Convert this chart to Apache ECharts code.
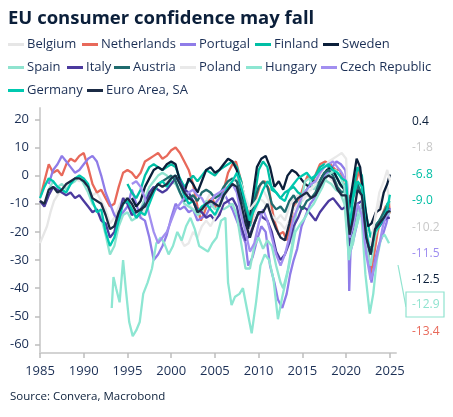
<!DOCTYPE html>
<html><head><meta charset="utf-8">
<script src="https://cdn.jsdelivr.net/npm/echarts@6/dist/echarts.min.js"></script>
<style>html,body{margin:0;padding:0;background:#fff}#c{width:453px;height:417px}</style>
</head><body><div id="c"></div>
<script>
// ---- data (year, value) ----
const belgium = [[1985.0,-24],[1985.4,-21],[1985.8,-18],[1986.2,-13],[1986.6,-9],[1987.0,-7],[1987.5,-5],[1988.0,-4],[1988.5,-3],[1989.0,-1],[1989.5,-2],[1990.0,-1],[1990.5,-4],[1991.0,-7],[1991.5,-6],[1992.0,-9],[1992.5,-12],[1993.0,-17],[1993.5,-15],[1994.0,-11],[1994.5,-8],[1995.0,-8],[1995.5,-11],[1996.0,-14],[1996.5,-15],[1997.0,-12],[1997.5,-8],[1998.0,-5],[1998.5,-3],[1999.0,-4],[1999.5,-2],[2000.0,-1],[2000.5,0],[2001.0,-3],[2001.5,-8],[2002.0,-10],[2002.5,-12],[2003.0,-15],[2003.5,-13],[2004.0,-9],[2004.5,-6],[2005.0,-8],[2005.5,-10],[2006.0,-6],[2006.5,-3],[2007.0,-2],[2007.5,-1],[2008.0,-8],[2008.5,-14],[2009.0,-20],[2009.5,-14],[2010.0,-9],[2010.5,-5],[2011.0,-8],[2011.5,-12],[2012.0,-16],[2012.5,-14],[2013.0,-16],[2013.5,-11],[2014.0,-8],[2014.5,-7],[2015.0,-9],[2015.5,-7],[2016.0,-8],[2016.5,-6],[2017.0,-2],[2017.5,0],[2018.0,0],[2018.5,-2],[2019.0,-3],[2019.5,-4],[2020.0,-5],[2020.4,-18],[2020.8,-12],[2021.3,-3],[2021.8,-6],[2022.3,-20],[2022.8,-26],[2023.3,-15],[2023.8,-10],[2024.3,-6],[2024.7,-4],[2025.0,-10.2]];
const netherlands = [[1985.1,-7],[1985.5,-2],[1986.0,4],[1986.5,1],[1987.0,2],[1987.5,0],[1988.0,4],[1988.5,6],[1989.0,5],[1989.5,7],[1990.0,8],[1990.5,3],[1991.0,-3],[1991.5,-6],[1992.0,-5],[1992.5,-8],[1993.0,-11],[1993.5,-10],[1994.0,-4],[1994.5,1],[1995.0,2],[1995.5,1],[1996.0,-1],[1996.5,1],[1997.0,5],[1997.5,6],[1998.0,7],[1998.5,8],[1999.0,6],[1999.5,7],[2000.0,9],[2000.5,10],[2001.0,8],[2001.5,5],[2002.0,2],[2002.5,-3],[2003.0,-11],[2003.4,-16],[2003.8,-13],[2004.3,-9],[2004.7,-8],[2005.2,-12],[2005.5,-14],[2006.0,-5],[2006.5,1],[2007.0,4],[2007.4,5],[2008.0,-2],[2008.5,-10],[2009.1,-17],[2009.6,-9],[2010.2,-3],[2010.7,-2],[2011.2,-5],[2011.7,-15],[2012.3,-21],[2012.8,-20],[2013.2,-23],[2013.6,-18],[2014.0,-11],[2014.6,-9],[2015.2,-3],[2015.6,0],[2016.2,-2],[2016.6,1],[2017.0,4],[2017.6,5],[2018.2,4],[2018.8,2],[2019.3,2],[2019.8,-4],[2020.4,-8],[2020.9,-5],[2021.5,2],[2021.9,-5],[2022.3,-20],[2022.8,-35],[2023.2,-28],[2023.6,-20],[2024.0,-15],[2024.5,-11],[2024.9,-10],[2025.0,-13.4]];
const portugal = [[1986.0,-3],[1986.5,2],[1987.0,4],[1987.5,7],[1988.0,5],[1988.5,3],[1989.0,1],[1989.5,2],[1990.0,4],[1990.5,6],[1991.0,7],[1991.5,5],[1992.0,0],[1992.5,-6],[1993.0,-10],[1993.5,-14],[1994.0,-16],[1994.5,-13],[1995.0,-11],[1995.5,-5],[1996.0,-10],[1996.5,-15],[1997.0,-16],[1997.5,-22],[1998.0,-30],[1998.5,-28],[1999.0,-25],[1999.5,-21],[2000.0,-15],[2000.5,-10],[2001.0,-12],[2001.5,-11],[2002.0,-13],[2002.5,-12],[2003.0,-16],[2003.5,-15],[2004.0,-14],[2004.5,-11],[2005.0,-10],[2005.5,-8],[2006.0,-6],[2006.5,-9],[2007.0,-12],[2007.5,-16],[2008.0,-20],[2008.5,-24],[2008.8,-32],[2009.3,-29],[2009.8,-23],[2010.3,-18],[2010.8,-20],[2011.3,-32],[2011.8,-38],[2012.2,-44],[2012.7,-47],[2013.2,-42],[2013.6,-35],[2014.0,-30],[2014.4,-26],[2014.9,-18],[2015.4,-14],[2015.9,-10],[2016.4,-8],[2016.9,-4],[2017.4,-1],[2017.9,1],[2018.4,3],[2018.9,5],[2019.4,4],[2019.9,2],[2020.2,-5],[2020.35,-41],[2020.5,-27],[2020.9,-22],[2021.4,-15],[2021.9,-10],[2022.3,-24],[2022.7,-33],[2022.9,-38],[2023.3,-30],[2023.7,-25],[2024.2,-21],[2024.6,-17],[2025.0,-11.5]];
const finland = [[1995.0,-3],[1995.5,-6],[1996.0,-8],[1996.5,-5],[1997.0,0],[1997.5,3],[1998.0,4],[1998.5,3],[1999.0,2],[1999.5,3],[2000.0,4],[2000.5,3],[2001.0,-1],[2001.5,-4],[2002.0,-2],[2002.5,0],[2003.0,-2],[2003.5,0],[2004.0,2],[2004.5,1],[2005.0,0],[2005.5,2],[2006.0,3],[2006.5,4],[2007.0,5],[2007.5,3],[2008.0,-2],[2008.5,-10],[2009.0,-18],[2009.5,-8],[2010.0,2],[2010.5,5],[2011.0,3],[2011.5,-5],[2012.0,-6],[2012.5,-8],[2013.0,-6],[2013.5,-5],[2014.0,-4],[2014.5,-6],[2015.0,-7],[2015.5,-5],[2016.0,-2],[2016.5,0],[2017.0,3],[2017.5,4],[2018.0,3],[2018.5,2],[2019.0,-1],[2019.5,-4],[2020.0,-3],[2020.4,-15],[2020.8,-6],[2021.3,3],[2021.8,0],[2022.3,-14],[2022.8,-22],[2023.3,-18],[2023.8,-16],[2024.3,-14],[2024.7,-10],[2025.0,-9.0]];
const sweden = [[1995.5,-8],[1996.0,-11],[1996.5,-9],[1997.0,-4],[1997.5,-1],[1998.0,2],[1998.5,3],[1999.0,2],[1999.5,4],[2000.0,5],[2000.5,4],[2001.0,-2],[2001.5,-6],[2002.0,-1],[2002.5,-3],[2003.0,-6],[2003.5,-2],[2004.0,2],[2004.5,3],[2005.0,1],[2005.5,2],[2006.0,4],[2006.5,6],[2007.0,5],[2007.5,2],[2008.0,-5],[2008.5,-13],[2008.8,-19],[2009.3,-8],[2009.8,3],[2010.3,6],[2010.8,7],[2011.3,3],[2011.8,-4],[2012.3,-2],[2012.8,-5],[2013.3,0],[2013.8,2],[2014.3,1],[2014.8,-1],[2015.3,-3],[2015.8,-4],[2016.3,-2],[2016.8,-3],[2017.3,0],[2017.8,2],[2018.3,3],[2018.8,0],[2019.3,-3],[2019.8,-5],[2020.3,-12],[2020.8,-2],[2021.2,6],[2021.6,3],[2022.0,-8],[2022.5,-18],[2022.9,-17],[2023.4,-13],[2023.9,-12],[2024.3,-6],[2024.7,-3],[2025.0,0.4]];
const spain = [[1986.0,-5],[1986.5,-2],[1987.0,-4],[1987.5,-3],[1988.0,-5],[1988.5,-3],[1989.0,-2],[1989.5,0],[1990.0,-3],[1990.5,-6],[1991.0,-10],[1991.5,-12],[1992.0,-15],[1992.5,-21],[1993.0,-28],[1993.5,-25],[1994.0,-18],[1994.5,-14],[1995.0,-13],[1995.5,-16],[1996.0,-15],[1996.5,-12],[1997.0,-8],[1997.5,-4],[1998.0,-2],[1998.5,0],[1999.0,1],[1999.5,0],[2000.0,-2],[2000.5,-3],[2001.0,-6],[2001.5,-10],[2002.0,-11],[2002.5,-12],[2003.0,-14],[2003.5,-13],[2004.0,-9],[2004.5,-10],[2005.0,-12],[2005.5,-11],[2006.0,-12],[2006.5,-11],[2007.0,-10],[2007.5,-14],[2008.0,-24],[2008.5,-33],[2009.0,-33],[2009.5,-25],[2010.0,-22],[2010.5,-26],[2011.0,-23],[2011.5,-25],[2012.0,-32],[2012.5,-38],[2012.8,-40],[2013.3,-34],[2013.8,-25],[2014.3,-13],[2014.8,-10],[2015.3,-2],[2015.8,-1],[2016.3,-5],[2016.8,-3],[2017.3,-1],[2017.8,-2],[2018.3,-3],[2018.8,-5],[2019.3,-6],[2019.8,-10],[2020.3,-28],[2020.8,-24],[2021.3,-13],[2021.8,-10],[2022.3,-25],[2022.8,-32],[2023.3,-22],[2023.8,-16],[2024.3,-14],[2024.7,-14],[2025.0,-12.9]];
const italy = [[1985.0,-9],[1985.5,-11],[1986.0,-7],[1986.5,-4],[1987.0,-5],[1987.5,-6],[1988.0,-7],[1988.5,-6],[1989.0,-8],[1989.5,-7],[1990.0,-9],[1990.5,-11],[1991.0,-13],[1991.5,-12],[1992.0,-16],[1992.5,-17],[1993.0,-22],[1993.5,-20],[1994.0,-14],[1994.5,-8],[1995.0,-10],[1995.5,-14],[1996.0,-13],[1996.5,-12],[1997.0,-10],[1997.5,-6],[1998.0,-4],[1998.5,-5],[1999.0,-6],[1999.5,-5],[2000.0,-3],[2000.5,-1],[2001.0,-2],[2001.5,-5],[2002.0,-6],[2002.5,-9],[2003.0,-12],[2003.5,-13],[2004.0,-15],[2004.5,-14],[2005.0,-16],[2005.5,-14],[2006.0,-10],[2006.5,-9],[2007.0,-8],[2007.5,-11],[2008.0,-18],[2008.5,-23],[2009.0,-21],[2009.5,-17],[2010.0,-13],[2010.5,-15],[2011.0,-16],[2011.5,-20],[2012.0,-27],[2012.5,-30],[2013.0,-28],[2013.5,-24],[2014.0,-18],[2014.5,-15],[2015.0,-11],[2015.5,-12],[2016.0,-14],[2016.5,-16],[2017.0,-13],[2017.5,-11],[2018.0,-9],[2018.5,-8],[2019.0,-10],[2019.5,-12],[2020.0,-11],[2020.4,-25],[2020.8,-18],[2021.3,-10],[2021.8,-9],[2022.3,-22],[2022.8,-28],[2023.3,-19],[2023.8,-18],[2024.3,-16],[2024.7,-15],[2025.0,-15]];
const austria = [[1996.0,-15],[1996.5,-13],[1997.0,-10],[1997.5,-8],[1998.0,-5],[1998.5,-3],[1999.0,-2],[1999.5,-1],[2000.0,0],[2000.5,-2],[2001.0,-6],[2001.5,-9],[2002.0,-8],[2002.5,-7],[2003.0,-9],[2003.5,-6],[2004.0,-5],[2004.5,-6],[2005.0,-8],[2005.5,-7],[2006.0,-4],[2006.5,-2],[2007.0,-1],[2007.5,-2],[2008.0,-8],[2008.5,-12],[2009.0,-16],[2009.5,-9],[2010.0,-4],[2010.5,-2],[2011.0,-4],[2011.5,-10],[2012.0,-12],[2012.5,-11],[2013.0,-13],[2013.5,-9],[2014.0,-7],[2014.5,-10],[2015.0,-12],[2015.5,-9],[2016.0,-8],[2016.5,-6],[2017.0,-2],[2017.5,1],[2018.0,2],[2018.5,0],[2019.0,-4],[2019.5,-6],[2020.0,-5],[2020.4,-20],[2020.8,-12],[2021.3,-3],[2021.8,-7],[2022.3,-20],[2022.8,-27],[2023.3,-18],[2023.8,-16],[2024.3,-13],[2024.7,-11],[2025.0,-13]];
const poland = [[2001.0,-22],[2001.5,-25],[2002.0,-24],[2002.5,-20],[2003.0,-22],[2003.5,-18],[2004.0,-16],[2004.5,-18],[2005.0,-15],[2005.5,-12],[2006.0,-8],[2006.5,-5],[2007.0,-2],[2007.5,0],[2008.0,-3],[2008.5,-8],[2009.0,-12],[2009.5,-10],[2010.0,-8],[2010.5,-9],[2011.0,-11],[2011.5,-14],[2012.0,-16],[2012.5,-17],[2013.0,-19],[2013.5,-16],[2014.0,-12],[2014.5,-10],[2015.0,-8],[2015.5,-6],[2016.0,-5],[2016.5,-3],[2017.0,0],[2017.5,3],[2018.0,5],[2018.5,6],[2019.0,7],[2019.5,8],[2020.0,6],[2020.3,-15],[2020.8,-10],[2021.3,-5],[2021.8,-8],[2022.3,-20],[2022.8,-25],[2023.3,-15],[2023.8,-6],[2024.3,-2],[2024.7,2],[2025.0,-1.8]];
const hungary = [[1993.2,-47],[1993.4,-36],[1993.7,-40],[1994.1,-45],[1994.5,-30],[1994.8,-40],[1995.2,-52],[1995.6,-57],[1996.0,-55],[1996.4,-52],[1996.8,-42],[1997.3,-38],[1997.8,-33],[1998.3,-24],[1998.8,-22],[1999.2,-24],[1999.7,-28],[2000.2,-25],[2000.7,-20],[2001.2,-23],[2001.7,-18],[2002.2,-15],[2002.7,-19],[2003.2,-25],[2003.7,-26],[2004.2,-27],[2004.7,-24],[2005.2,-22],[2005.7,-16],[2006.2,-15],[2006.5,-38],[2006.9,-46],[2007.3,-43],[2007.8,-42],[2008.2,-40],[2008.7,-48],[2009.2,-56],[2009.7,-45],[2010.2,-32],[2010.7,-28],[2011.2,-30],[2011.7,-37],[2012.2,-51],[2012.7,-43],[2013.2,-36],[2013.6,-30],[2014.2,-20],[2014.8,-17],[2015.3,-15],[2015.8,-12],[2016.3,-10],[2016.8,-7],[2017.3,-4],[2017.8,0],[2018.3,1],[2018.8,2],[2019.3,0],[2019.8,-4],[2020.3,-30],[2020.7,-22],[2021.2,-18],[2021.7,-12],[2022.2,-35],[2022.7,-49],[2023.1,-42],[2023.5,-30],[2024.0,-22],[2024.4,-21],[2024.9,-24]];
const czech = [[1995.5,-3],[1996.0,-2],[1996.5,-4],[1997.0,-8],[1997.5,-14],[1998.0,-20],[1998.5,-24],[1999.0,-22],[1999.5,-20],[2000.0,-16],[2000.5,-12],[2001.0,-10],[2001.5,-8],[2002.0,-6],[2002.5,-5],[2003.0,-7],[2003.5,-8],[2004.0,-11],[2004.5,-9],[2005.0,-7],[2005.5,-6],[2006.0,-5],[2006.5,-4],[2007.0,-3],[2007.5,-6],[2008.0,-14],[2008.5,-20],[2009.0,-27],[2009.5,-24],[2010.0,-17],[2010.5,-12],[2011.0,-16],[2011.5,-22],[2012.0,-28],[2012.5,-32],[2013.0,-28],[2013.5,-22],[2014.0,-15],[2014.5,-11],[2015.0,-7],[2015.5,-5],[2016.0,-3],[2016.5,-2],[2017.0,1],[2017.5,3],[2018.0,4],[2018.5,5],[2019.0,3],[2019.5,1],[2020.0,-2],[2020.4,-22],[2020.8,-18],[2021.3,-10],[2021.8,-14],[2022.3,-28],[2022.8,-37],[2023.2,-33],[2023.7,-26],[2024.2,-18],[2024.6,-14],[2025.0,-12]];
const germany = [[1985.0,-8],[1985.5,-4],[1986.0,-1],[1986.5,-2],[1987.0,-4],[1987.5,-5],[1988.0,-6],[1988.5,-3],[1989.0,-1],[1989.5,0],[1990.0,-1],[1990.5,-3],[1991.0,-9],[1991.5,-13],[1992.0,-12],[1992.5,-20],[1993.0,-25],[1993.5,-22],[1994.0,-16],[1994.5,-10],[1995.0,-9],[1995.5,-12],[1996.0,-15],[1996.5,-13],[1997.0,-14],[1997.5,-10],[1998.0,-6],[1998.5,-3],[1999.0,-2],[1999.5,-4],[2000.0,-1],[2000.5,0],[2001.0,-3],[2001.5,-7],[2002.0,-10],[2002.5,-9],[2003.0,-13],[2003.5,-11],[2004.0,-10],[2004.5,-12],[2005.0,-14],[2005.5,-11],[2006.0,-7],[2006.5,-4],[2007.0,-2],[2007.5,1],[2008.0,-4],[2008.5,-10],[2009.0,-16],[2009.5,-12],[2010.0,-9],[2010.5,-5],[2011.0,-2],[2011.5,-4],[2012.0,-6],[2012.5,-8],[2013.0,-9],[2013.5,-5],[2014.0,-3],[2014.5,-1],[2015.0,0],[2015.5,1],[2016.0,-1],[2016.5,0],[2017.0,2],[2017.5,3],[2018.0,4],[2018.5,2],[2019.0,1],[2019.5,-1],[2020.0,-2],[2020.4,-18],[2020.8,-8],[2021.3,-2],[2021.8,-4],[2022.3,-20],[2022.8,-28],[2023.3,-20],[2023.8,-18],[2024.3,-15],[2024.7,-12],[2025.0,-6.8]];
const euroArea = [[1985.0,-9],[1985.5,-10],[1986.0,-5],[1986.5,-4],[1987.0,-6],[1987.5,-5],[1988.0,-3],[1988.5,-2],[1989.0,-1],[1989.5,-1],[1990.0,-2],[1990.5,-4],[1991.0,-8],[1991.5,-9],[1992.0,-10],[1992.5,-14],[1993.0,-19],[1993.5,-18],[1994.0,-13],[1994.5,-10],[1995.0,-8],[1995.5,-10],[1996.0,-13],[1996.5,-12],[1997.0,-11],[1997.5,-8],[1998.0,-5],[1998.5,-3],[1999.0,-4],[1999.5,-3],[2000.0,-1],[2000.5,0],[2001.0,-3],[2001.5,-6],[2002.0,-8],[2002.5,-9],[2003.0,-13],[2003.5,-12],[2004.0,-10],[2004.5,-9],[2005.0,-10],[2005.5,-11],[2006.0,-7],[2006.5,-5],[2007.0,-3],[2007.5,-4],[2008.0,-10],[2008.5,-17],[2009.0,-22],[2009.5,-17],[2010.0,-13],[2010.5,-13],[2011.0,-10],[2011.5,-15],[2012.0,-19],[2012.5,-22],[2013.0,-23],[2013.5,-17],[2014.0,-10],[2014.5,-8],[2015.0,-7],[2015.5,-6],[2016.0,-8],[2016.5,-7],[2017.0,-4],[2017.5,-1],[2018.0,0],[2018.5,-1],[2019.0,-5],[2019.5,-7],[2020.0,-7],[2020.4,-21],[2020.8,-15],[2021.3,-5],[2021.8,-7],[2022.3,-22],[2022.8,-28],[2023.3,-19],[2023.8,-17],[2024.3,-15],[2024.7,-13],[2025.0,-12.5]];

const seriesNames = ['Belgium','Netherlands','Portugal','Finland','Sweden','Spain','Italy','Austria','Poland','Hungary','Czech Republic','Germany','Euro Area, SA'];
const seriesData = [belgium, netherlands, portugal, finland, sweden, spain, italy, austria, poland, hungary, czech, germany, euroArea];
const seriesColors = ['#e6e6e6','#e8695a','#8f7ce8','#00bfa5','#0b1f3a','#8fe3cf','#4b3a9e','#1f6b6e','#e9e9e9','#8de6d2','#a28ff0','#00c9b0','#1b2b45'];
const yTicks = [-60,-50,-40,-30,-20,-10,0,10,20];
const xTicks = [1985,1990,1995,2000,2005,2010,2015,2020,2025];
const endLabels = ['0.4','-1.8','-6.8','-9.0','-10.2','-11.5','-12.5','-12.9','-13.4'];
const endLabelColors = ['#0b1f3a','#c8c8c8','#00bfa5','#00bfa5','#c8c8c8','#9d8cf0','#0b1f3a','#8fe3cf','#e8695a'];

// ---- layout ----
const FONT = 'Open Sans';
const TXT = '#1b2f55';
const legendPos = [[8,38],[82,38],[180,38],[255,38],[323,38],[8,61],[67,61],[114,61],[180,61],[246,61],[321,61],[8,84],[87,84]];

const chart = echarts.init(document.getElementById('c'), null, {renderer:'canvas'});
const legends = seriesNames.map((n,i)=>({
  data:[n], left:legendPos[i][0], top:legendPos[i][1], padding:0,
  icon:'rect', itemWidth:16, itemHeight:3,
  textStyle:{fontFamily:FONT, fontSize:13, color:TXT, padding:[0,0,0,-2]}
}));
const graphics = [
  {type:'text', left:8, top:9, style:{text:'EU consumer confidence may fall', fontFamily:FONT, fontSize:18.5, fontWeight:'bold', fill:'#0b1f3a'}},
  {type:'text', left:10, top:391, style:{text:'Source: Convera, Macrobond', fontFamily:FONT, fontSize:11.5, fill:'#0b1f3a'}},
  {type:'polyline', shape:{points:[[398,265],[406,307]]}, style:{stroke:'#8fe3cf', lineWidth:1.2, fill:null}},
  {type:'rect', shape:{x:406, y:292, width:38, height:25}, style:{stroke:'#8fe3cf', lineWidth:1.2, fill:'#fff'}}
];
const labelYs = [122,148,175,201,228,254,280,305,332];
endLabels.forEach((t,i)=>{
  graphics.push({type:'text', x:412, y:labelYs[i], style:{text:t, fontFamily:FONT, fontSize:12, fill:endLabelColors[i], verticalAlign:'middle', align:'left'}});
});

chart.setOption({
  animation:false,
  backgroundColor:'#fff',
  legend: legends,
  grid:{left:40, right:57, top:108, bottom:64},
  xAxis:{type:'value', min:1985, max:2025.7,
    axisLine:{show:true, onZero:false, lineStyle:{color:'#d3d3d3', width:2}},
    axisTick:{show:true, length:5, lineStyle:{color:'#bdbdbd', width:1.5}, customValues:xTicks},
    axisLabel:{customValues:xTicks, formatter:(v)=>String(v), fontFamily:FONT, fontSize:13, color:TXT, margin:12},
    splitLine:{show:false}},
  yAxis:{type:'value', min:-63, max:24,
    axisLine:{show:true, onZero:false, lineStyle:{color:'#d3d3d3', width:2}},
    axisTick:{show:true, length:5, lineStyle:{color:'#bdbdbd', width:1.5}, customValues:yTicks},
    axisLabel:{customValues:yTicks, formatter:(v)=>String(v), fontFamily:FONT, fontSize:13, color:TXT, margin:11},
    splitLine:{show:false}},
  series: seriesNames.map((n,i)=>({
    name:n, type:'line', data:seriesData[i], showSymbol:false, symbol:'none',
    lineStyle:{width:2.3, color:seriesColors[i]}, itemStyle:{color:seriesColors[i]}, z:2+i
  })),
  graphic: graphics
});
</script></body></html>
